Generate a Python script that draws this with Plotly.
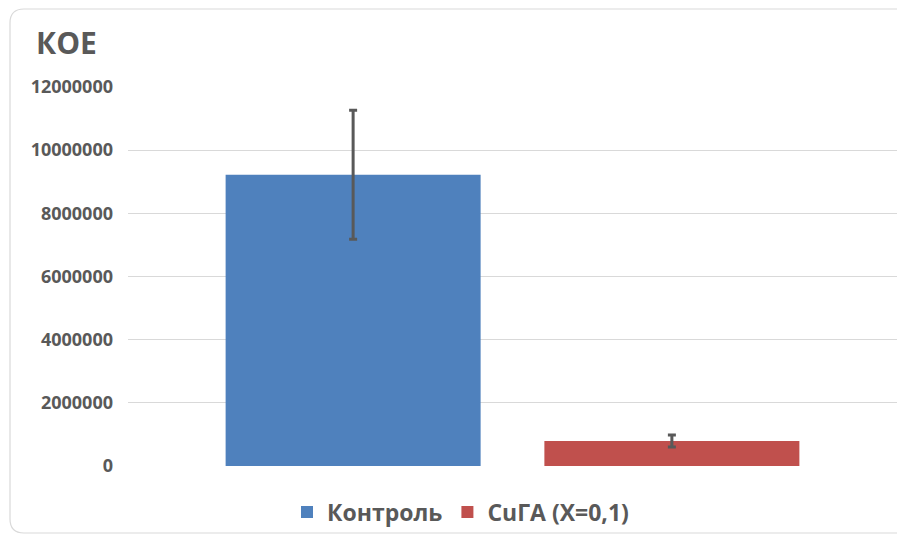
import plotly.graph_objects as go

series_names = ["Контроль", "CuГА (X=0,1)"]
values = [9220000, 790000]
errors = [2040000, 190000]
colors = ["#4F81BD", "#C0504D"]
tick_vals = [0, 2000000, 4000000, 6000000, 8000000, 10000000, 12000000]
tick_text = ["0", "2000000", "4000000", "6000000", "8000000", "10000000", "12000000"]

OFF = 8  # page body margin
W, H = 905 - OFF, 544 - OFF
L, T = 128 - OFF, 87 - OFF
R = W - (897 - OFF)
B = H - (466 - OFF)
pw, ph = W - L - R, H - T - B

def px(x):  # page pixel -> paper
    return (x - OFF - L) / pw

def py(y):
    return (H - B - (y - OFF)) / ph

FONT = "Open Sans, Liberation Sans, Arial, sans-serif"
GRAY = "#595959"

fig = go.Figure()
for name, v, e, c in zip(series_names, values, errors, colors):
    fig.add_trace(go.Bar(
        x=[""], y=[v], name=name, marker=dict(color=c, line=dict(width=0)),
        error_y=dict(type="data", array=[e], visible=True, color=GRAY, thickness=3, width=4),
    ))

# rounded chart-area border
x0, x1, y0, y1, r = 10, 915, 9, 533, 14
path = (f"M {px(x0)},{py(y0 + r)} Q {px(x0)},{py(y0)} {px(x0 + r)},{py(y0)} "
        f"L {px(x1 - r)},{py(y0)} Q {px(x1)},{py(y0)} {px(x1)},{py(y0 + r)} "
        f"L {px(x1)},{py(y1 - r)} Q {px(x1)},{py(y1)} {px(x1 - r)},{py(y1)} "
        f"L {px(x0 + r)},{py(y1)} Q {px(x0)},{py(y1)} {px(x0)},{py(y1 - r)} Z")
fig.add_shape(type="path", path=path, xref="paper", yref="paper",
              line=dict(color="#D9D9D9", width=1.2), layer="below")

fig.add_annotation(text="КОЕ", xref="paper", yref="paper", x=px(34), y=py(43),
                   xanchor="left", yanchor="middle", showarrow=False,
                   font=dict(family=FONT, size=30, color=GRAY, weight="bold"))

fig.update_layout(
    width=W, height=H,
    margin=dict(l=L, r=R, t=T, b=B),
    paper_bgcolor="white", plot_bgcolor="white",
    barmode="group", bargap=0.171, bargroupgap=0.2,
    showlegend=True,
    legend=dict(orientation="h", x=px(287), y=py(512), xanchor="left", yanchor="middle",
                bgcolor="rgba(0,0,0,0)",
                font=dict(family=FONT, size=23, color=GRAY, weight="bold"),
                itemclick=False, traceorder="normal"),
    xaxis=dict(showticklabels=False, showgrid=False, zeroline=False, showline=False),
    yaxis=dict(range=[0, 12000000], tickvals=tick_vals, ticktext=tick_text,
               showgrid=True, gridcolor="#D9D9D9", gridwidth=1, zeroline=False,
               showline=False, ticks="", ticklabelstandoff=14,
               tickfont=dict(family=FONT, size=18, color=GRAY, weight="bold")),
)

fig.write_html("out.html")
